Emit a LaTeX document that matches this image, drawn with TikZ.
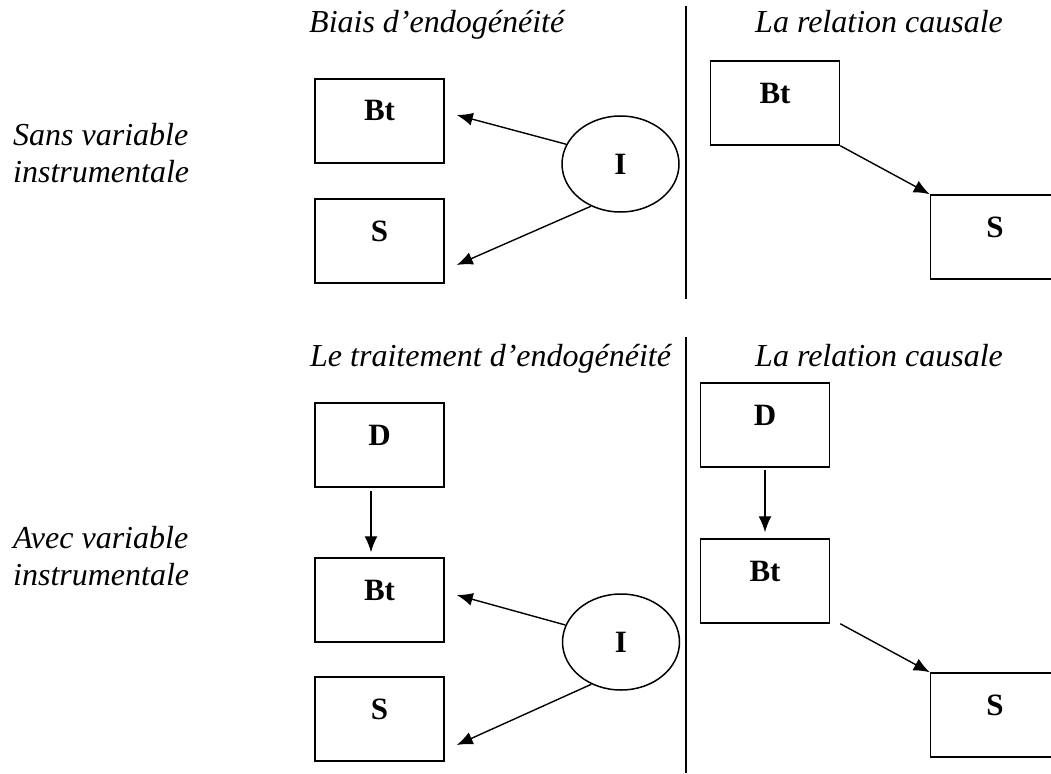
\documentclass[tikz,border=0pt]{standalone}
\usepackage{fontspec}
\setmainfont{Liberation Serif}
\usepackage{tikz}
\usetikzlibrary{arrows.meta, shapes.geometric}
\tikzset{>={Latex[length=16pt,width=13pt]}}
\tikzset{
  varbox/.style = {draw, line width=1.5pt, minimum width=129pt, inner sep=0pt,
    text height=42pt, text depth=42pt, anchor=base, font=\fontsize{31}{36}\selectfont\bfseries},
  instr/.style = {draw, ellipse, line width=1.5pt, minimum width=117pt, minimum height=96pt,
    inner sep=0pt, font=\fontsize{31}{36}\selectfont\bfseries},
  heading/.style = {anchor=base west, inner sep=0pt, font=\fontsize{32}{37}\selectfont\itshape},
  causal/.style = {->, line width=1.4pt}
}

\begin{document}
\begin{tikzpicture}[x=1pt, y=-1pt]
\useasboundingbox (0, 0) rectangle (1051, 773); % same frame as the page

% headings and separators
\node[heading] (h1) at (309, 33) {Biais d'endogénéité};
\node[heading] (h2) at (755, 33) {La relation causale};
\node[heading] (h3) at (310, 366) {Le traitement d'endogénéité};
\node[heading] (h4) at (755, 366) {La relation causale};
\node[heading, align=left] (sans) at (13, 182) {Sans variable\\instrumentale};
\node[heading, align=left] (avec) at (13, 585) {Avec variable\\instrumentale};
\draw[line width=1.5pt] (686, 6) -- (686, 299);
\draw[line width=1.5pt] (686, 337) -- (686, 773);

% sans variable instrumentale
\node[varbox] (bt1) at (379.5, 121) {Bt};
\node[varbox] (s1) at (379.5, 241) {S};
\node[instr] (i1) at (620.5, 164) {I};
\draw[causal] (i1.160) -- ([xshift=12pt, yshift=6pt]bt1.east);
\draw[causal] (i1.235) -- ([xshift=12pt, yshift=-24pt]s1.east);

\node[varbox] (bt2) at (775, 103) {Bt};
\node[varbox] (s2) at (995, 237) {S};
\draw[causal] (bt2.south east) -- (s2.north west);

% avec variable instrumentale
\node[varbox] (d3) at (379.5, 445) {D};
\node[varbox] (bt3) at (379.5, 600) {Bt};
\node[varbox] (s3) at (379.5, 719) {S};
\node[instr] (i3) at (621, 642) {I};
\draw[causal, shorten <=3pt, shorten >=5pt] ([xshift=-8.5pt]d3.south) -- ([xshift=-8.5pt]bt3.north);
\draw[causal] (i3.163) -- ([xshift=12pt, yshift=5pt]bt3.east);
\draw[causal] (i3.235) -- ([xshift=12pt, yshift=-26pt]s3.east);

\node[varbox] (d4) at (765, 425) {D};
\node[varbox] (bt4) at (765, 581) {Bt};
\node[varbox] (s4) at (995, 715) {S};
\draw[causal, shorten <=2pt, shorten >=6pt] (d4.south) -- (bt4.north);
\draw[causal] ([xshift=10pt]bt4.south east) -- (s4.north west);

\end{tikzpicture}
\end{document}
